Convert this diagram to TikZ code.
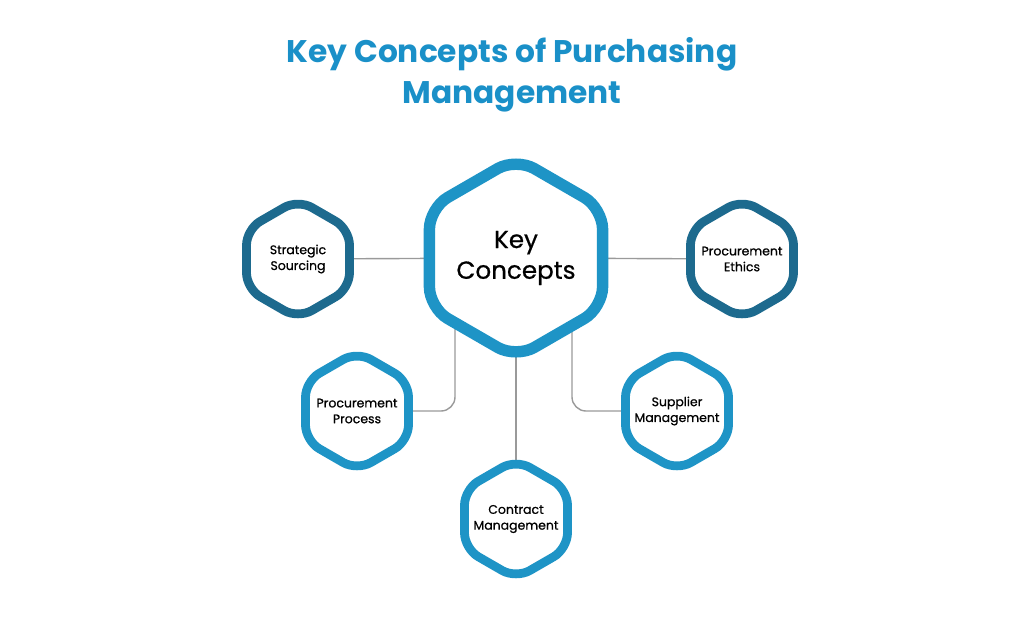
\documentclass[tikz,border=0pt]{standalone}
\usepackage{fontspec}
\setmainfont{Poppins}
\newfontfamily\medfont{Poppins}[FakeBold=0.7]
\usetikzlibrary{shapes.geometric, positioning, calc, backgrounds}
\definecolor{titleblue}{HTML}{1A90C8}
\definecolor{hexdark}{HTML}{1D6A8E}
\definecolor{hexlight}{HTML}{1E94C6}
\definecolor{linegray}{HTML}{9A9A9A}

\begin{document}
\begin{tikzpicture}[
    x=0.02cm, y=-0.02cm,
    % Node styles
    bighex/.style={
        regular polygon,
        regular polygon sides=6,
        shape border rotate=30,
        minimum size=4cm,
        inner sep=0pt,
        rounded corners=12pt,
        draw=hexlight,
        line width=6.5pt,
        fill=white
    },
    smallhex/.style={
        regular polygon,
        regular polygon sides=6,
        shape border rotate=30,
        minimum size=2.38cm,
        inner sep=0pt,
        rounded corners=9pt,
        draw=hexlight,
        line width=5pt,
        fill=white
    },
    darkhex/.style={smallhex, draw=hexdark},
    bigtext/.style={align=center, font=\fontsize{14}{17.5}\selectfont\medfont},
    smalltext/.style={align=center, font=\fontsize{7.1}{9}\selectfont\medfont},
    link/.style={
        draw=linegray,
        line width=0.8pt,
        rounded corners=8pt
    }
]
\useasboundingbox (0,0) rectangle (1024,627);

% === Title ===
\node[font=\fontsize{17.8}{23.5}\selectfont\bfseries, text=titleblue, align=center] (title) at (512,75) {Key Concepts of Purchasing\\Management};

% === Hexagons ===
\node[bighex, label={[bigtext]center:Key\\Concepts}] (kc) at (516,258) {};
\node[darkhex, label={[smalltext]center:Strategic\\Sourcing}] (sourcing) at (298,259) {};
\node[darkhex, label={[smalltext]center:Procurement\\Ethics}] (ethics) at (742,259) {};
\node[smallhex, label={[smalltext]center:Procurement\\Process}] (process) at (357,411) {};
\node[smallhex, label={[smalltext]center:Supplier\\Management}] (supplier) at (677,411) {};
\node[smallhex, label={[smalltext]center:Contract\\Management}] (contract) at (516,519) {};

% === Connectors ===
\begin{scope}[on background layer]
\draw[link] (kc.center) -- (sourcing.center);
\draw[link] (kc.center) -- (ethics.center);
\draw[link] ($(kc.center)+(-61,0)$) |- (process.center);
\draw[link] ($(kc.center)+(56,0)$) |- (supplier.center);
\draw[link] (kc.center) -- (contract.center);
\end{scope}

\end{tikzpicture}
\end{document}
